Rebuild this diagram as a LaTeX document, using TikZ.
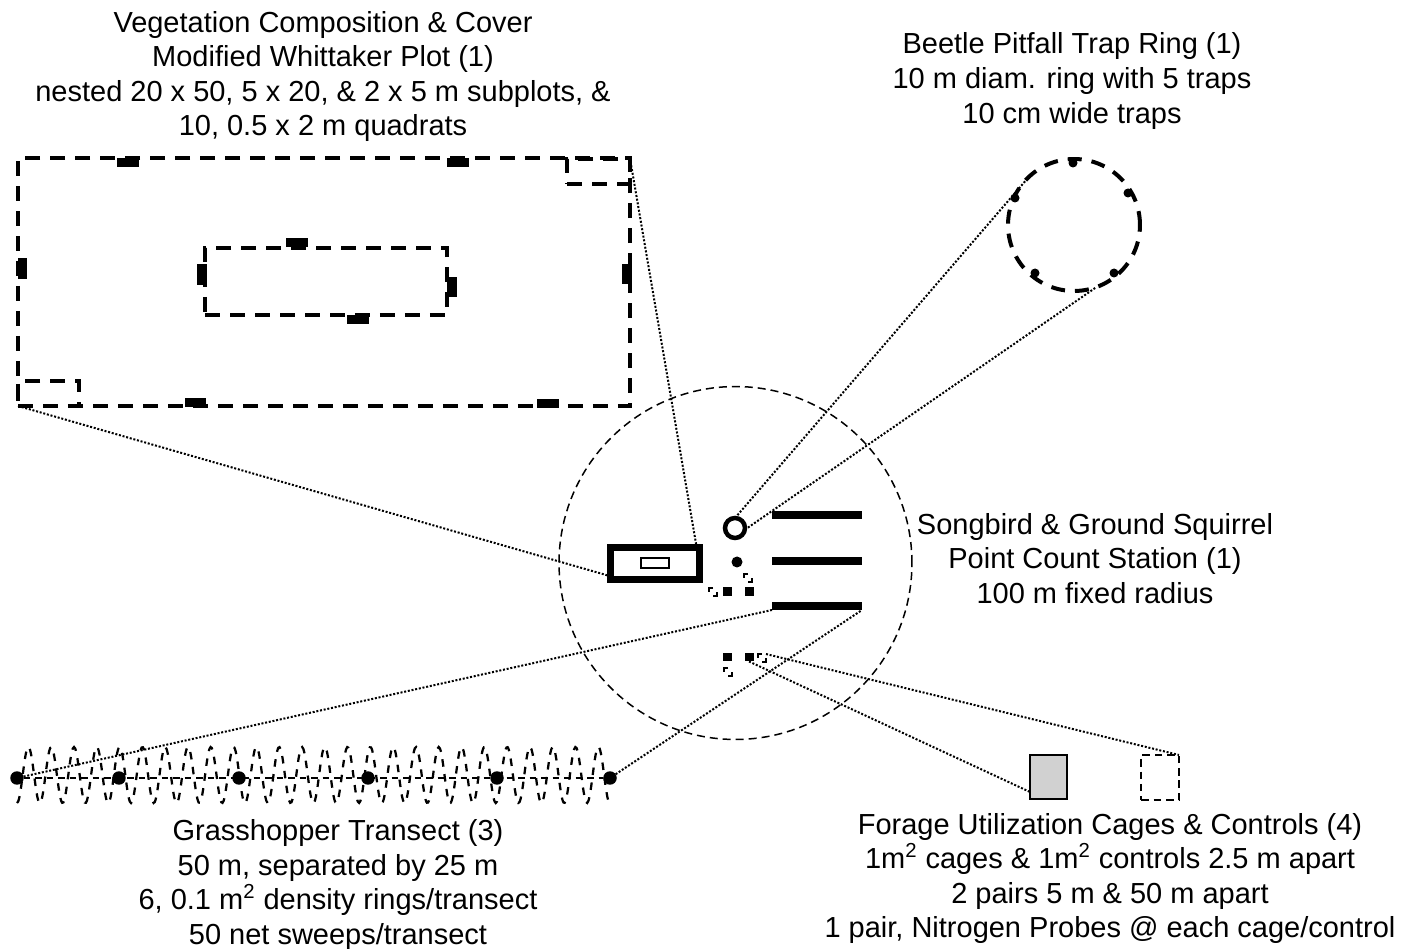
\documentclass[tikz,border=0pt]{standalone}
\usepackage{fontspec}
\setmainfont{Liberation Sans}
\usetikzlibrary{positioning}
\tikzset{
  label/.style={align=center, inner sep=0pt, font=\fontsize{16.5}{19.7}\selectfont},
  plotbox/.style={draw, inner sep=0pt, outer sep=0pt, line width=0.08cm, dash pattern=on 0.3cm off 0.2cm},
  quadrat/.style={fill=black, inner sep=0pt, outer sep=0pt},
  trap/.style={circle, fill=black, inner sep=0pt, outer sep=0pt, minimum size=0.18cm},
  bar/.style={fill=black, inner sep=0pt, outer sep=0pt, minimum width=1.8cm, minimum height=0.16cm},
  sq/.style={fill=black, inner sep=0pt, outer sep=0pt, minimum size=0.18cm},
  ctrlmark/.style={draw, inner sep=0pt, outer sep=0pt, minimum size=0.16cm, line width=0.05cm, dash pattern=on 0.16cm off 0.16cm, dash phase=0.24cm},
  stake/.style={circle, fill=black, inner sep=0pt, outer sep=0pt, minimum size=0.27cm},
  link/.style={line width=0.04cm, dash pattern=on 0.04cm off 0.035cm},
}
\begin{document}
\begin{tikzpicture}[x=0.02cm, y=-0.02cm]
  \useasboundingbox (0,0) rectangle (1401,949);
  \node[label] (veglabel) at (323,76.5) {Vegetation Composition \& Cover\\Modified Whittaker Plot (1)\\nested 20 x 50, 5 x 20, \& 2 x 5 m subplots, \&\\10, 0.5 x 2 m quadrats};
  \node[label] (beetlabel) at (1072,81) {Beetle Pitfall Trap Ring (1)\\10 m diam. ring with 5 traps\\10 cm wide traps};
  \node[label] (pointlabel) at (1095,558.5) {Songbird \& Ground Squirrel\\Point Count Station (1)\\100 m fixed radius};
  \node[label] (hopperlabel) at (338,885) {Grasshopper Transect (3)\\50 m, separated by 25 m\\6, 0.1 m\textsuperscript{2} density rings/transect\\50 net sweeps/transect};
  \node[label] (foragelabel) at (1110,878.5) {Forage Utilization Cages \& Controls (4)\\1m\textsuperscript{2} cages \& 1m\textsuperscript{2} controls 2.5 m apart\\2 pairs 5 m \& 50 m apart\\1 pair, Nitrogen Probes @ each cage/control};

  \node[plotbox, minimum width=12.24cm, minimum height=4.96cm] (whit) at (324,282) {};
  \node[plotbox, line width=0.07cm, minimum width=4.84cm, minimum height=1.34cm] (sub) at (326,281.5) {};
  \node[plotbox, line width=0.07cm, minimum width=1.26cm, minimum height=0.5cm] (cornerne) at (598.5,171.5) {};
  \node[plotbox, line width=0.07cm, minimum width=1.22cm, minimum height=0.5cm] (cornersw) at (48.5,393.5) {};
  \foreach \n/\x/\y in {q1/128/163, q2/458/163, q3/195.5/402.5, q4/547.5/403.5, q5/296.5/243, q6/357.5/319.5}
    \node[quadrat, minimum width=0.44cm, minimum height=0.18cm] (\n) at (\x,\y) {};
  \foreach \n/\x/\y in {q7/22.5/268.5, q8/626.5/274, q9/201.5/274.5, q10/451.5/287}
    \node[quadrat, minimum width=0.2cm, minimum height=0.41cm] (\n) at (\x,\y) {};

  \node[draw, line width=0.14cm, inner sep=0pt, outer sep=0pt, minimum width=1.78cm, minimum height=0.64cm] (whitsm) at (655,563.5) {};
  \node[draw, line width=0.03cm, inner sep=0pt, outer sep=0pt, minimum width=0.56cm, minimum height=0.2cm] (subsm) at (655,563) {};
  \draw[link] (whit.south west) -- (whitsm.196);
  \draw[link] (whit.north east) -- (whitsm.21);

  \node[circle, draw, line width=0.08cm, inner sep=0pt, outer sep=0pt, minimum size=2.64cm, dash pattern=on 0.28cm off 0.2cm] (beet) at (1074,225) {};
  \foreach \n/\x/\y in {t1/1073/163, t2/1128/193, t3/1015/198, t4/1035/273, t5/1114/273}
    \node[trap] (\n) at (\x,\y) {};
  \node[circle, draw, line width=0.09cm, inner sep=0pt, outer sep=0pt, minimum size=0.4cm] (ringsm) at (735,528) {};
  \draw[link] (ringsm.north) -- (beet.133);
  \draw[link] (ringsm.-10) -- (beet.-70);

  \node[circle, draw, line width=0.03cm, inner sep=0pt, minimum size=7.06cm, dash pattern=on 0.16cm off 0.1cm] (count) at (735.5,563) {};
  \node[circle, fill=black, inner sep=0pt, minimum size=0.22cm] (station) at (737,562) {};

  \node[bar] (tr1) at (817,515) {};
  \node[bar, below=0.76cm of tr1] (tr2) {};
  \node[bar, below=0.74cm of tr2] (tr3) {};

  \foreach \n/\x in {s1/17, s2/119, s3/239, s4/368, s5/497, s6/610}
    \node[stake] (\n) at (\x,778) {};
  \draw[line width=0.035cm, dash pattern=on 0.13cm off 0.1cm] (s1) -- (s6);
  \draw[line width=0.045cm, dash pattern=on 0.15cm off 0.15cm] plot[domain=17:609.8, samples=500, smooth] (\x,{775+28*cos((\x-17)/22.8*360)});
  \draw[link] (s1) -- (tr3.south west);
  \draw[link] (s6) -- (tr3.south east);

  \foreach \n/\x/\y in {p1/727/592, p2/749/592, p3/727/657, p4/749/657}
    \node[sq] (\n) at (\x,\y) {};
  \foreach \n/\x/\y in {m1/713/592, m2/748/578, m3/762/658, m4/728/672}
    \node[ctrlmark] (\n) at (\x,\y) {};

  \node[draw, fill=black!18, line width=0.05cm, inner sep=0pt, outer sep=0pt, minimum width=0.74cm, minimum height=0.88cm] (cage) at (1048.5,777) {};
  \node[draw, line width=0.04cm, inner sep=0pt, outer sep=0pt, minimum width=0.76cm, minimum height=0.9cm, dash pattern=on 0.15cm off 0.1cm] (ctrl) at (1160,777.5) {};
  \draw[link] (p4.south) -- (cage.219);
  \draw[link] (m3.north east) -- (ctrl.north east);
\end{tikzpicture}
\end{document}
